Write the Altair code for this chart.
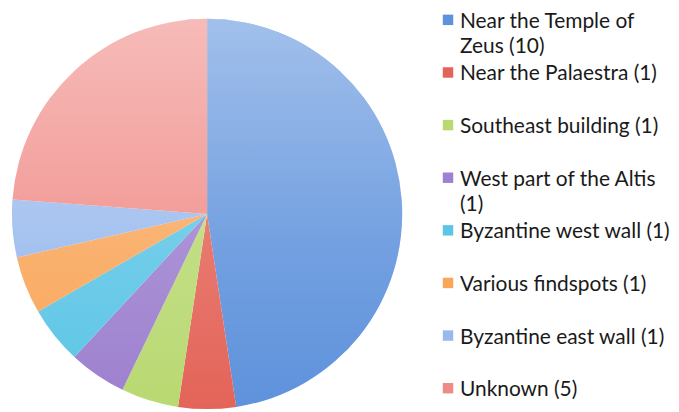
import altair as alt
import pandas as pd

categories = ["Near the Temple of Zeus", "Near the Palaestra", "Southeast building",
              "West part of the Altis", "Byzantine west wall", "Various findspots",
              "Byzantine east wall", "Unknown"]
counts = [10, 1, 1, 1, 1, 1, 1, 5]
legend_labels = ["Near the Temple of\nZeus (10)", "Near the Palaestra (1)",
                 "Southeast building (1)", "West part of the Altis\n(1)",
                 "Byzantine west wall (1)", "Various findspots (1)",
                 "Byzantine east wall (1)", "Unknown (5)"]

palette = ["#5e92dc", "#e46459", "#b9d972", "#9d80cf", "#5cc5e6", "#f9a65a", "#98b9ed", "#f08a86"]

df = pd.DataFrame({"category": categories, "count": counts, "label": legend_labels,
                   "order": list(range(len(categories)))})

color_scale = alt.Scale(domain=categories, range=palette)
R = 196
CX, CY = 200, 206

base = alt.Chart(df)

slices = base.mark_arc(radius=R, strokeWidth=0).encode(
    theta=alt.Theta("count:Q", stack=True),
    order=alt.Order("order:Q", sort="ascending"),
    color=alt.Color("category:N", scale=color_scale, legend=None),
    x=alt.value(CX), y=alt.value(CY),
)

shine = alt.Gradient(
    gradient="linear", x1=0, y1=0, x2=0, y2=1,
    stops=[alt.GradientStop(color="rgba(255,255,255,0.42)", offset=0),
           alt.GradientStop(color="rgba(255,255,255,0.12)", offset=0.6),
           alt.GradientStop(color="rgba(255,255,255,0)", offset=1)],
)
overlay = alt.Chart(pd.DataFrame({"k": [0]})).mark_arc(
    radius=R, theta=0, theta2=6.2832, fill=shine, strokeWidth=0
).encode(x=alt.value(CX), y=alt.value(CY))

pie = alt.layer(slices, overlay).properties(width=400, height=396)

ypos = alt.Y("order:Q", scale=alt.Scale(domain=[0, len(categories) - 1], range=[19, 389]), axis=None)

leg_sq = base.mark_square(size=110, opacity=1, yOffset=-8).encode(
    x=alt.value(42), y=ypos,
    color=alt.Color("category:N", scale=color_scale, legend=None),
)
leg_txt = base.mark_text(align="left", baseline="alphabetic", fontSize=21, font="Lato",
                         lineBreak="\n", lineHeight=25, color="#1a1a1a").encode(
    x=alt.value(54), y=ypos, text="label:N",
)
legend = alt.layer(leg_sq, leg_txt).properties(width=263, height=396)

chart = alt.hconcat(pie, legend, spacing=0).properties(padding=0).configure_view(stroke=None)

chart.save("out.html", embed_options={"renderer": "svg", "actions": False})
